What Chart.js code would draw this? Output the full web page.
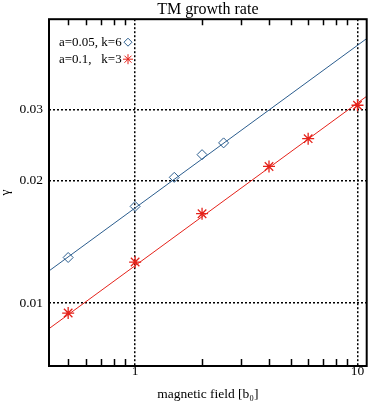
<!DOCTYPE html>
<html>
<head>
    <title>TM growth rate</title>
    <script src="https://cdn.jsdelivr.net/npm/chart.js"></script>
    <style>
        body { margin: 0; background: white; }
        #wrap { width: 374px; height: 404px; }
    </style>
</head>
<body>
    <div id="wrap">
        <canvas id="growthPlot" width="374" height="404"></canvas>
    </div>

    <script>
        const fieldA = [0.5, 1.0, 1.5, 2.0, 2.5];
        const gammaA = [0.01295, 0.0173, 0.0204, 0.0232, 0.0248];
        const fieldB = [0.5, 1.0, 2.0, 4.0, 6.0, 10.0];
        const gammaB = [0.00945, 0.01262, 0.0166, 0.0217, 0.0254, 0.0307];

        // fitted power laws, end points where they meet the frame
        const fitField = [0.41, 11];
        const fitA = [0.0120, 0.0448];
        const fitB = [0.00865, 0.0323];

        const labelA = 'a=0.05, k=6';
        const labelB = 'a=0.1,   k=3';

        const xMajor = [1, 10];
        const xMinor = [0.5, 0.6, 0.7, 0.8, 0.9, 2, 3, 4, 5, 6, 7, 8, 9];
        const yMajor = [0.01, 0.02, 0.03];

        const blue = '#2b5d8e';
        const red = '#e5231b';
        const serif = "'Liberation Serif', 'Times New Roman', serif";

        const pts = (xs, ys) => xs.map((x, i) => ({ x: x, y: ys[i] }));

        // frame, inward minor ticks and the little legend
        const framePlugin = {
            id: 'frame',
            afterDraw(chart) {
                const ctx = chart.ctx;
                const a = chart.chartArea;
                const xs = chart.scales.x;
                ctx.save();
                ctx.strokeStyle = 'black';
                ctx.lineWidth = 1.5;
                xMinor.forEach(v => {
                    const px = Math.round(xs.getPixelForValue(v)) + 0.5;
                    ctx.beginPath();
                    ctx.moveTo(px, a.top);
                    ctx.lineTo(px, a.top + 6);
                    ctx.moveTo(px, a.bottom);
                    ctx.lineTo(px, a.bottom - 7);
                    ctx.stroke();
                });
                ctx.lineWidth = 2;
                ctx.strokeRect(a.left, a.top, a.right - a.left, a.bottom - a.top);

                ctx.font = '13px ' + serif;
                ctx.fillStyle = 'black';
                ctx.textBaseline = 'middle';
                ctx.fillText(labelA, a.left + 10, a.top + 23);
                ctx.fillText(labelB, a.left + 10, a.top + 40);
                ctx.lineWidth = 1;
                ctx.fillStyle = 'white';
                ctx.strokeStyle = blue;
                Chart.helpers.drawPoint(ctx, { pointStyle: 'rectRot', radius: 4, borderWidth: 1 }, a.left + 79, a.top + 23);
                ctx.fillStyle = red;
                ctx.strokeStyle = red;
                Chart.helpers.drawPoint(ctx, { pointStyle: 'star', radius: 5, borderWidth: 1 }, a.left + 79, a.top + 40);
                ctx.restore();
            }
        };

        const ctx = document.getElementById('growthPlot').getContext('2d');

        new Chart(ctx, {
            type: 'scatter',
            data: {
                datasets: [
                    {
                        type: 'line',
                        data: pts(fitField, fitA),
                        borderColor: blue,
                        borderWidth: 1,
                        pointRadius: 0
                    },
                    {
                        type: 'line',
                        data: pts(fitField, fitB),
                        borderColor: red,
                        borderWidth: 1,
                        pointRadius: 0
                    },
                    {
                        label: labelA,
                        data: pts(fieldA, gammaA),
                        pointStyle: 'rectRot',
                        pointRadius: 5,
                        borderColor: blue,
                        backgroundColor: 'rgba(255,255,255,0)',
                        borderWidth: 1
                    },
                    {
                        label: labelB,
                        data: pts(fieldB, gammaB),
                        pointStyle: 'star',
                        pointRadius: 6,
                        borderColor: red,
                        backgroundColor: red,
                        borderWidth: 1.3
                    }
                ]
            },
            options: {
                responsive: false,
                animation: false,
                layout: { padding: { left: 0, right: 2, top: 0, bottom: 0 } },
                scales: {
                    x: {
                        type: 'logarithmic',
                        min: 0.41,
                        max: 11,
                        afterBuildTicks: s => { s.ticks = xMajor.map(v => ({ value: v })); },
                        afterFit: s => { s.height = 38; },
                        border: { display: false, dash: [2, 2] },
                        grid: {
                            color: 'black',
                            lineWidth: 1.5,
                            drawTicks: false
                        },
                        ticks: {
                            color: 'black',
                            padding: -3,
                            font: { family: serif, size: 13.5 },
                            callback: v => String(v)
                        },
                        title: {
                            display: true,
                            text: 'magnetic field [b\u2080]',
                            color: 'black',
                            font: { family: serif, size: 13.5 },
                            padding: { top: 0, bottom: 1 }
                        }
                    },
                    y: {
                        type: 'logarithmic',
                        min: 0.007,
                        max: 0.05,
                        afterBuildTicks: s => { s.ticks = yMajor.map(v => ({ value: v })); },
                        afterFit: s => { s.width = 49; },
                        border: { display: false, dash: [2, 2] },
                        grid: {
                            color: 'black',
                            lineWidth: 1.5,
                            drawTicks: false
                        },
                        ticks: {
                            color: 'black',
                            padding: 6,
                            font: { family: serif, size: 13.5 },
                            callback: v => String(v)
                        },
                        title: {
                            display: true,
                            text: '\u03b3',
                            color: 'black',
                            font: { family: serif, size: 13.5 },
                            padding: { top: -3, bottom: 0 }
                        }
                    }
                },
                plugins: {
                    legend: { display: false },
                    tooltip: { enabled: false },
                    title: {
                        display: true,
                        text: 'TM growth rate',
                        color: 'black',
                        fullSize: false,
                        font: { family: serif, size: 16, weight: 'normal', lineHeight: 0.85 },
                        padding: { top: 2.5, bottom: 3.1 }
                    }
                }
            },
            plugins: [framePlugin]
        });
    </script>
</body>
</html>
